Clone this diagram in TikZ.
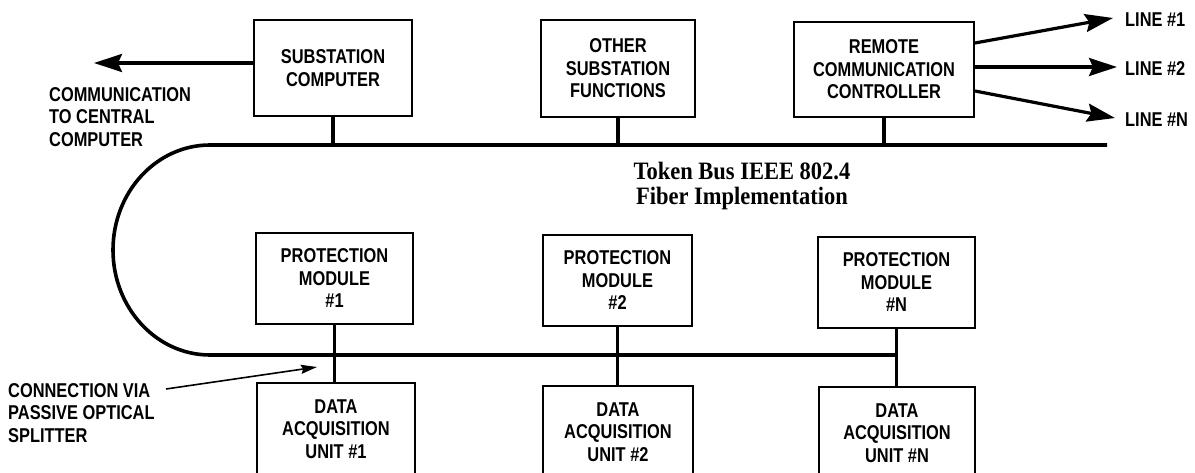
\documentclass[tikz,border=0pt]{standalone}
\usepackage{fontspec}
\setmainfont{Liberation Sans}
\newfontfamily\blockfont[FakeStretch=0.82]{Liberation Sans}
\newfontfamily\busfont[FakeStretch=0.9]{Liberation Serif}
\usetikzlibrary{arrows.meta}

\tikzset{
  labeltext/.style={font=\blockfont\bfseries\fontsize{20}{22.5}\selectfont, inner sep=0pt},
  block/.style={labeltext, draw, line width=2pt, align=center,
    minimum width=#1, minimum height=92pt},
  block/.default=157pt,
  bus/.style={line width=3.6pt},
  tap/.style={line width=3.8pt},
  bigarrow/.style={line width=3.2pt, -{Stealth[length=28pt,width=18pt,inset=4pt]}},
  thinarrow/.style={line width=1.6pt, -{Stealth[length=16pt,width=9pt,inset=2pt]}},
}

\begin{document}
\begin{tikzpicture}[x=1pt,y=-1pt]
  \useasboundingbox (0,0) rectangle (1195,473);
  \clip (0,0) rectangle (1195,473);

  % upper row of units
  \node[block=158pt, minimum height=96pt] (sub) at (333,68) {SUBSTATION\\COMPUTER};
  \node[block=154pt, minimum height=97pt] (oth) at (618,68.5) {OTHER\\SUBSTATION\\FUNCTIONS};
  \node[block=180pt, minimum height=95pt] (rcc) at (884,69.5) {REMOTE\\COMMUNICATION\\CONTROLLER};

  % protection modules
  \node[block=157pt, minimum height=91pt] (pm1) at (334.5,278.5) {PROTECTION\\MODULE\\\#1};
  \node[block=149pt, minimum height=91pt] (pm2) at (617.5,280.5) {PROTECTION\\MODULE\\\#2};
  \node[block=157pt, minimum height=91pt] (pmN) at (896.5,282.5) {PROTECTION\\MODULE\\\#N};

  % data acquisition units
  \node[block=158pt] (da1) at (336,429) {DATA\\ACQUISITION\\UNIT \#1};
  \node[block=150pt] (da2) at (618,432) {DATA\\ACQUISITION\\UNIT \#2};
  \node[block=156pt] (daN) at (897,433) {DATA\\ACQUISITION\\UNIT \#N};

  % fiber token bus: upper run, loop, lower run
  \coordinate (busR) at (1107,145);
  \coordinate (busL) at (210,145);
  \coordinate (busEnd) at (896.5,355);
  \draw[bus] (busR) -- (busL)
    arc[start angle=-90, end angle=-270, x radius=97, y radius=105]
    -- (busEnd);

  \node[font=\busfont\bfseries\fontsize{25}{25}\selectfont, align=center, inner sep=0pt]
    (busname) at (742,186) {Token Bus IEEE 802.4\\Fiber Implementation};

  % taps onto the bus
  \draw[tap] (sub.south) -- (sub.south |- busL);
  \draw[tap] (oth.south) -- (oth.south |- busL);
  \draw[tap] (rcc.south) -- (rcc.south |- busL);
  \draw[tap] (pm1.south) -- (pm1.south |- da1.north);
  \draw[tap] (pm2.south) -- (pm2.south |- da2.north);
  \draw[tap] (pmN.south) -- (pmN.south |- daN.north);

  % link to the central computer
  \coordinate (central) at (94,63);
  \draw[bigarrow] ([yshift=5pt]sub.west) -- (central);
  \node[labeltext, align=left, anchor=west] (cclabel) at (49,117)
    {COMMUNICATION\\TO CENTRAL\\COMPUTER};

  % outgoing lines
  \node[labeltext, anchor=west] (l1) at (1125,19.5) {LINE \#1};
  \node[labeltext, anchor=west] (l2) at (1125,69) {LINE \#2};
  \node[labeltext, anchor=west] (lN) at (1125,120) {LINE \#N};
  \draw[bigarrow] ([yshift=26.5pt]rcc.east) -- ([xshift=-12pt,yshift=1.5pt]l1.west);
  \draw[bigarrow] ([yshift=2.5pt]rcc.east) -- ([xshift=-8pt,yshift=2pt]l2.west);
  \draw[bigarrow] ([yshift=-21.5pt]rcc.east) -- ([xshift=-10pt,yshift=2pt]lN.west);

  % splitter callout
  \node[labeltext, align=left, anchor=west] (split) at (8,413)
    {CONNECTION VIA\\PASSIVE OPTICAL\\SPLITTER};
  \coordinate (splitfrom) at (166,389);
  \coordinate (splitpt) at (317,367);
  \draw[thinarrow] (splitfrom) -- (splitpt);
\end{tikzpicture}
\end{document}
